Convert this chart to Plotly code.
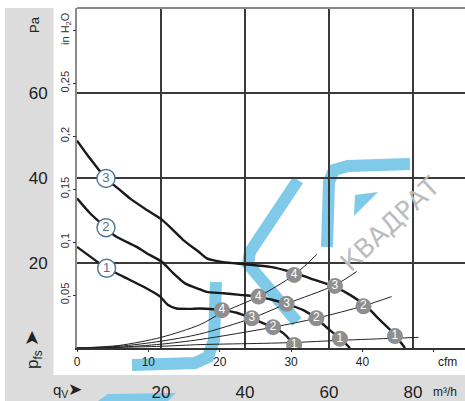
import plotly.graph_objects as go

# ---------------- data (m³/h , Pa) ----------------
c3_q = [0, 3.1, 6.9, 10.2, 12.6, 16.6, 19.8, 22.1, 25.3, 28.9, 30.9, 34.8, 40.0, 46.0, 50.7, 55.5, 61.4, 65.0, 69.0, 72.1, 75.3, 78.1]
c3_p = [48.8, 44.6, 39.9, 37.2, 35.2, 32.5, 30.5, 28.5, 25.4, 22.7, 21.1, 20.2, 19.7, 19.1, 18.0, 16.4, 14.4, 12.5, 9.7, 6.6, 3.5, 0]

c2_q = [0, 3.1, 6.9, 9.0, 14.2, 16.6, 20.2, 22.9, 25.7, 29.3, 30.9, 34.8, 38.8, 43.2, 46.7, 49.9, 53.9, 56.9, 60.2, 63.0, 65.0]
c2_p = [35.2, 31.7, 28.3, 26.4, 23.8, 22.3, 20.3, 17.6, 15.2, 13.8, 13.2, 12.9, 12.5, 12.1, 11.3, 10.4, 8.9, 7.0, 4.2, 1.9, 0]

c1_q = [0, 7.1, 11.0, 16.6, 19.8, 21.7, 23.7, 26.9, 29.3, 34.5, 38.0, 41.6, 44.4, 46.7, 49.1, 50.7, 51.9]
c1_p = [23.8, 18.75, 16.8, 14.0, 12.1, 10.1, 9.3, 9.2, 9.3, 8.9, 8.3, 7.0, 5.8, 4.9, 3.5, 1.9, 0]

# system (resistance) curves
s4_q = [0, 10, 20, 29.3, 34.5, 43.2, 51.7, 57.1]
s4_p = [0, 0.6, 2.5, 5.5, 8.3, 12.1, 17.2, 22.0]
s3_q = [0, 10, 20, 29.3, 41.6, 49.9, 61.4, 66.6]
s3_p = [0, 0.4, 1.6, 3.3, 7.0, 10.4, 14.8, 18.0]
s2_q = [0, 10, 20, 29.3, 46.7, 57.0, 68.2, 74.9]
s2_p = [0, 0.2, 0.9, 2.0, 4.9, 7.0, 9.9, 12.1]
s1_q = [0, 10, 20, 29.3, 44.5, 51.7, 62.6, 75.7, 81.3]
s1_p = [0, 0.15, 0.4, 0.8, 1.1, 1.3, 1.8, 2.3, 2.5]

# operating points (labelled markers)
op_q = [34.5, 43.2, 51.7, 41.6, 49.9, 61.4, 46.7, 57.0, 68.2, 51.7, 62.6, 75.7]
op_p = [8.9, 12.1, 17.2, 7.0, 10.4, 14.6, 4.9, 7.0, 9.8, 0.7, 2.2, 2.8]
op_lbl = ["4", "4", "4", "3", "3", "3", "2", "2", "2", "1", "1", "1"]

# fan curve labels
fl_q = [6.9, 6.9, 7.05]
fl_p = [39.9, 28.3, 18.75]
fl_lbl = ["3", "2", "1"]

# axes
m3h_ticks = [20, 40, 60, 80]
m3h_text = ["20", "40", "60", "80"]
pa_ticks = [20, 40, 60]
pa_text = ["20", "40", "60"]
cfm_ticks = [0, 10, 20, 30, 40, 50]
cfm_text = ["0", "10", "20", "30", "40", ""]
inh2o_ticks = [0.05, 0.1, 0.15, 0.2, 0.25, 0.3]
inh2o_text = ["0,05", "0,1", "0,15", "0,2", "0,25", "in H<sub>2</sub>O"]

CFM = 1.699      # m³/h per cfm
INH2O = 249.089  # Pa per inH2O

W, H = 465, 401
ML, MR, MT, MB = 77, 0, 8, 53
XMAX = (W - ML - MR) / 4.2
YMAX = 80

FONT = "Liberation Sans Narrow, Arial Narrow, Liberation Sans, Arial, sans-serif"


def px(x):
    return (x - ML) / (W - ML - MR)


def py(y):
    return (H - MB - y) / (H - MT - MB)


def path(pts, close=False):
    s = "M " + " L ".join(f"{px(a):.4f},{py(b):.4f}" for a, b in pts)
    return s + (" Z" if close else "")


fig = go.Figure()

for q, p in [(s4_q, s4_p), (s3_q, s3_p), (s2_q, s2_p), (s1_q, s1_p)]:
    fig.add_trace(go.Scatter(x=q, y=p, mode="lines", line=dict(color="#222", width=1, shape="spline", smoothing=0.8),
                             hoverinfo="skip", showlegend=False))

for q, p in [(c3_q, c3_p), (c2_q, c2_p), (c1_q, c1_p)]:
    fig.add_trace(go.Scatter(x=q, y=p, mode="lines", line=dict(color="#1a1a1a", width=2.4, shape="spline", smoothing=0.6),
                             hoverinfo="skip", showlegend=False))

fig.add_trace(go.Scatter(x=op_q, y=op_p, mode="markers+text", text=op_lbl, textposition="middle center",
                         marker=dict(size=16, color="#8e8e8e", line=dict(width=0)),
                         textfont=dict(color="white", size=12, family=FONT), hoverinfo="skip", showlegend=False))

fig.add_trace(go.Scatter(x=fl_q, y=fl_p, mode="markers+text", text=fl_lbl, textposition="middle center",
                         marker=dict(size=18, color="white", line=dict(width=1.4, color="#4d7396")),
                         textfont=dict(color="#4d7396", size=13, family=FONT), hoverinfo="skip", showlegend=False))

# dummy trace for the secondary axes
fig.add_trace(go.Scatter(x=[1], y=[0.01], xaxis="x2", yaxis="y2", mode="markers", marker=dict(opacity=0),
                         hoverinfo="skip", showlegend=False))

GRAY = "#dcdcdc"
BLUE = "#7fcae8"
shapes = [
    dict(type="rect", xref="paper", yref="paper", x0=px(5), x1=px(53.5), y0=py(375), y1=py(8),
         fillcolor=GRAY, line=dict(width=0), layer="below"),
    dict(type="rect", xref="paper", yref="paper", x0=px(5), x1=px(W), y0=py(H), y1=py(375),
         fillcolor=GRAY, line=dict(width=0), layer="below"),
    # watermark strokes
    dict(type="path", xref="paper", yref="paper", layer="below", line=dict(color=BLUE, width=12),
         path=path([(216, 282), (214, 340), (208, 357), (195, 363), (132, 365)])),
    dict(type="path", xref="paper", yref="paper", layer="below", line=dict(color=BLUE, width=12),
         path=path([(298, 180), (250, 252), (248, 264), (297, 322)])),
    dict(type="path", xref="paper", yref="paper", layer="below", line=dict(color=BLUE, width=12),
         path=path([(327, 247), (329, 182), (334, 170), (348, 166), (410, 164)])),
    dict(type="path", xref="paper", yref="paper", layer="below", fillcolor=BLUE, line=dict(width=0),
         path=path([(354, 216), (355, 195), (378, 192)], close=True)),
    dict(type="path", xref="paper", yref="paper", layer="below", fillcolor=BLUE, line=dict(width=0),
         path=path([(98, 401), (108, 394), (176, 393), (168, 401)], close=True)),
    # top border
    dict(type="line", xref="paper", yref="paper", x0=0, x1=1, y0=1, y1=1, line=dict(color="#8a8a8a", width=2)),
]


def ann(text, x, y, size, angle=0, color="#222", family=FONT):
    return dict(text=text, x=px(x), y=py(y), xref="paper", yref="paper", showarrow=False, textangle=angle,
                xanchor="center", yanchor="middle", font=dict(size=size, color=color, family=family))


annotations = [
    ann("Pa", 34, 25, 13, -90),
    ann("p<sub>fs</sub> <span style='font-size:19px'>➤</span>", 33, 350, 17, -90),
    ann("q<sub>V</sub><span style='font-size:17px'>➤</span>", 67, 390, 15),
    ann("m³/h", 445, 392, 12),
    ann("cfm", 447, 362, 12),
    ann("КВАДРАТ", 390, 224, 26, -43, "#bcbcbc", "DejaVu Sans"),
]

fig.update_layout(
    width=W, height=H, margin=dict(l=ML, r=MR, t=MT, b=MB, pad=0, autoexpand=False),
    paper_bgcolor="white", plot_bgcolor="white", showlegend=False,
    shapes=shapes, annotations=annotations,
    xaxis=dict(range=[0, XMAX], tickvals=m3h_ticks, ticktext=m3h_text, ticks="", showgrid=True,
               gridcolor="#3a3a3a", gridwidth=1.5, zeroline=False, showline=True, linecolor="#333",
               linewidth=1.5, tickfont=dict(size=17, color="#222", family=FONT), ticklabelstandoff=28,
               fixedrange=True, automargin=False),
    yaxis=dict(range=[0, YMAX], tickvals=pa_ticks, ticktext=pa_text, ticks="", showgrid=True,
               gridcolor="#3a3a3a", gridwidth=1.5, zeroline=False, showline=True, linecolor="#8a8a8a",
               linewidth=2, tickfont=dict(size=17, color="#222", family=FONT), ticklabelstandoff=24,
               fixedrange=True, automargin=False),
    xaxis2=dict(overlaying="x", anchor="y", side="bottom", range=[0, XMAX / CFM], tickvals=cfm_ticks,
                ticktext=cfm_text, ticks="outside", ticklen=3, tickcolor="#333", showgrid=False,
                zeroline=False, showline=False, tickfont=dict(size=12, color="#222", family=FONT),
                fixedrange=True, automargin=False),
    yaxis2=dict(overlaying="y", anchor="x", side="left", range=[0, YMAX / INH2O], tickvals=inh2o_ticks,
                ticktext=inh2o_text, tickangle=-90, ticks="outside", ticklen=3, tickcolor="#333",
                showgrid=False, zeroline=False, showline=False,
                tickfont=dict(size=11, color="#333", family=FONT), fixedrange=True, automargin=False),
)

fig.write_html("out.html", config={"displayModeBar": False},
               post_script="document.body.style.margin='0';document.body.style.overflow='hidden';")
